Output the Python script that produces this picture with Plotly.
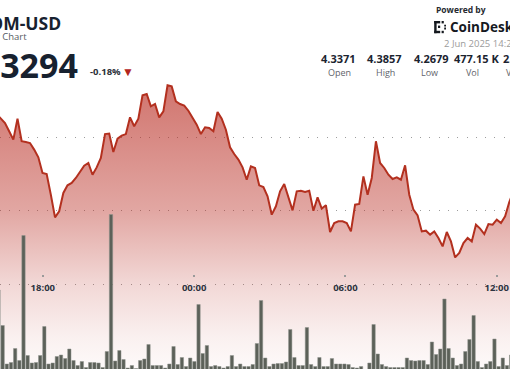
import pandas as pd
import plotly.graph_objects as go

W, H = 510, 369

# ---------------- data ----------------
price_start = "2025-06-01 16:10:13"
vol_start = "2025-06-01 16:14:35"
step = "595s"

prices = [
    4.3659, 4.3627, 4.3597, 4.3541, 4.3484, 4.3627, 4.3473, 4.3468, 4.3461, 4.3416,
    4.3364, 4.3257, 4.3250, 4.3109, 4.2955, 4.2996, 4.3121, 4.3173, 4.3189, 4.3223,
    4.3261, 4.3307, 4.3325, 4.3245, 4.3295, 4.3359, 4.3522, 4.3525, 4.3400, 4.3491,
    4.3511, 4.3522, 4.3636, 4.3575, 4.3627, 4.3786, 4.3795, 4.3711, 4.3727, 4.3636,
    4.3677, 4.3854, 4.3847, 4.3745, 4.3727, 4.3716, 4.3681, 4.3636, 4.3586, 4.3522,
    4.3568, 4.3563, 4.3541, 4.3672, 4.3627, 4.3552, 4.3432, 4.3386, 4.3348, 4.3295,
    4.3211, 4.3302, 4.3291, 4.3173, 4.3161, 4.3098, 4.2973, 4.3030, 4.3132, 4.3182,
    4.3086, 4.3002, 4.3132, 4.3136, 4.3127, 4.3136, 4.3000, 4.3091, 4.3014, 4.3037,
    4.2855, 4.2916, 4.2928, 4.2928, 4.2916, 4.2859, 4.3041, 4.3046, 4.3234, 4.3109,
    4.3223, 4.3473, 4.3325, 4.3291, 4.3245, 4.3216, 4.3227, 4.3211, 4.3309, 4.3109,
    4.3007, 4.2968, 4.2859, 4.2864, 4.2837, 4.2859, 4.2814, 4.2757, 4.2855, 4.2791,
    4.2682, 4.2712, 4.2780, 4.2814, 4.2791, 4.2905, 4.2878, 4.2841, 4.2909, 4.2905,
    4.2939, 4.2916, 4.2962, 4.3059, 4.3132,
]

volumes_k = [
    16.0, 8.9, 1.2, 1.5, 4.3, 1.9, 26.9, 2.9, 1.4, 1.5,
    2.9, 8.7, 1.2, 1.4, 2.7, 3.0, 2.3, 4.2, 1.9, 0.9,
    1.7, 0.5, 1.5, 1.5, 1.4, 0.5, 3.7, 31.1, 1.8, 3.9,
    2.1, 0.4, 0.9, 0.3, 1.9, 2.2, 5.1, 0.9, 0.9, 0.9,
    0.4, 1.2, 4.7, 1.1, 2.5, 0.7, 2.4, 1.7, 13.1, 3.3,
    4.9, 0.7, 0.9, 0.7, 0.4, 0.7, 2.9, 0.7, 1.2, 0.7,
    0.7, 1.1, 5.3, 13.9, 2.4, 0.7, 1.2, 1.3, 1.3, 1.6,
    8.1, 2.5, 0.9, 0.9, 8.5, 1.1, 0.7, 2.5, 0.7, 0.7,
    2.3, 1.2, 1.2, 1.2, 1.1, 0.5, 0.4, 0.7, 0.1, 1.4,
    9.1, 3.2, 1.1, 0.7, 0.5, 0.5, 0.5, 0.5, 2.4, 1.9,
    1.8, 1.9, 1.9, 1.1, 5.6, 3.1, 4.2, 14.2, 4.3, 2.4,
    0.9, 1.2, 3.7, 6.1, 10.9, 1.7, 0.5, 1.2, 1.7, 6.2,
    0.7, 2.4, 0.9, 3.0,
]

tick_times = ["2025-06-01 18:00", "2025-06-02 00:00", "2025-06-02 06:00", "2025-06-02 12:00"]
tick_labels = ["18:00", "00:00", "06:00", "12:00"]
grid_prices = [4.25, 4.30, 4.35]

symbol = "ATOM-USD"
subtitle = "24 Hour Chart"
last_price = "4.3294"
change_pct = "-0.18%"
date_text = "2 Jun 2025 14:26 UTC"
stat_values = ["4.3371", "4.3857", "4.2679", "477.15 K", "2.07 M"]
stat_labels = ["Open", "High", "Low", "Vol", "Vol(USD)"]

price_times = pd.date_range(price_start, periods=len(prices), freq=step)
vol_times = pd.date_range(vol_start, periods=len(volumes_k), freq=step)

# ---------------- helpers ----------------
def px(x):
    return x / W

def py(y):
    return 1 - y / H

FONT = "Open Sans"

fig = go.Figure()

fig.add_trace(go.Scatter(
    x=price_times, y=prices, mode="lines",
    line=dict(color="#b3301f", width=2),
    fill="tozeroy",
    fillgradient=dict(
        type="vertical", start=4.19, stop=4.3857,
        colorscale=[
            [0.0, "rgba(185,45,35,0.02)"],
            [0.12, "rgba(185,45,35,0.07)"],
            [0.31, "rgba(185,45,35,0.19)"],
            [0.56, "rgba(185,45,35,0.42)"],
            [1.0, "rgba(185,45,35,0.66)"],
        ],
    ),
    hoverinfo="skip", showlegend=False,
    xaxis="x", yaxis="y",
))

fig.add_trace(go.Bar(
    x=vol_times, y=volumes_k,
    marker=dict(color="#5c6159", line=dict(color="#8f938c", width=0.5)),
    hoverinfo="skip", showlegend=False,
    xaxis="x", yaxis="y2",
))

annotations = []

def txt(text, x, y, size, color, xanchor="left", bold=False):
    annotations.append(dict(
        text=f"<b>{text}</b>" if bold else text,
        x=px(x), y=py(y), xref="paper", yref="paper",
        xanchor=xanchor, yanchor="middle", showarrow=False,
        font=dict(family=FONT, size=size, color=color),
    ))

# left header (cropped)
txt(symbol, 63, 23.5, 17.5, "#17212f", xanchor="right", bold=True)
txt(subtitle, 28.5, 36.5, 9.5, "#555b63", xanchor="right")
txt(last_price, 79.5, 64.5, 34, "#17212f", xanchor="right", bold=True)
txt(change_pct, 87.5, 72, 9.5, "#2b3038", bold=True)
txt("▼", 128, 72, 12, "#b3261e", xanchor="center")

# right header
txt("Powered by", 433.5, 9.8, 8.5, "#262a30", bold=True)
txt("CoinDesk", 447.5, 27, 13.5, "#15191f", bold=True)
txt(date_text, 441.5, 43.5, 9.5, "#9b9b9b")

stat_centers = [338, 384.7, 431, 476]
label_centers = [339.5, 385.3, 429, 472]
for i in range(4):
    txt(stat_values[i], stat_centers[i], 59, 11, "#1c2430", xanchor="center", bold=True)
    txt(stat_labels[i], label_centers[i], 72.5, 9, "#5f646b", xanchor="center")
txt(stat_values[4], 501.3, 59, 11, "#1c2430", bold=True)
txt(stat_labels[4], 503.5, 72.5, 9, "#5f646b")

# CoinDesk logo (decorative)
logo_rects = [
    (434.2, 21.0, 436.6, 33.2),
    (434.2, 21.0, 440.2, 23.4),
    (434.2, 30.8, 440.2, 33.2),
    (441.6, 21.0, 443.8, 23.4),
    (441.6, 30.8, 443.8, 33.2),
    (438.0, 25.6, 440.2, 28.0),
    (444.2, 24.8, 446.0, 26.6),
    (444.2, 27.6, 446.0, 29.4),
]
shapes = [
    dict(type="rect", xref="paper", yref="paper",
         x0=px(a), x1=px(c), y0=py(d), y1=py(b),
         fillcolor="#15191f", line=dict(width=0))
    for a, b, c, d in logo_rects
]

y_top = 4.35 + 137.3 / 1468
y_bot = 4.35 - (H - 137.3) / 1468

fig.update_layout(
    width=W, height=H,
    margin=dict(l=0, r=0, t=0, b=0, pad=0, autoexpand=False),
    paper_bgcolor="white", plot_bgcolor="white",
    bargap=0.2,
    showlegend=False,
    annotations=annotations,
    shapes=shapes,
    xaxis=dict(
        type="date",
        range=["2025-06-01 16:18:10", "2025-06-02 12:31:39"],
        domain=[0, 1],
        anchor="free", position=(H - 277) / H,
        automargin=False,
        showgrid=False, zeroline=False, showline=False,
        tickmode="array", tickvals=tick_times, ticktext=tick_labels,
        ticks="inside", ticklen=2, tickwidth=2, tickcolor="#9a9a9a",
        tickfont=dict(family=FONT, size=9.5, color="#2c3340", weight="bold"),
        ticklabelstandoff=3,
    ),
    yaxis=dict(
        range=[y_bot, y_top], domain=[0, 1], automargin=False,
        showticklabels=False, zeroline=False, showline=False,
        tickmode="array", tickvals=grid_prices,
        showgrid=True, gridcolor="#9d9d9d", gridwidth=1, griddash="1px,8.33px",
    ),
    yaxis2=dict(
        range=[0.2, 74.0], overlaying="y", domain=[0, 1], automargin=False,
        showgrid=False, showticklabels=False, zeroline=False, showline=False,
    ),
)

fig.write_html(
    "out.html",
    config={"displayModeBar": False, "staticPlot": True},
    post_script="document.body.style.margin='0';document.body.style.overflow='hidden';",
)
